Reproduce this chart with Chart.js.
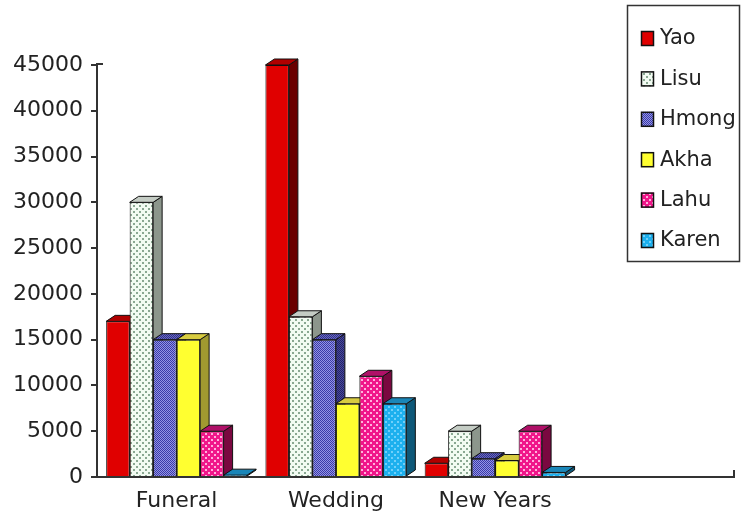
<!DOCTYPE html>
<html>
<head>
<meta charset="utf-8">
<script src="https://cdn.jsdelivr.net/npm/chart.js@4"></script>
<style>
    html, body { margin: 0; padding: 0; background: #fff; }
    #myChart { display: block; }
</style>
</head>
<body>
<canvas id="myChart" width="745" height="512"></canvas>
<script>
const categories = ['Funeral', 'Wedding', 'New Years', '']
const groups = ['Yao', 'Lisu', 'Hmong', 'Akha', 'Lahu', 'Karen']
const yao = [17000, 45000, 1500, null]
const lisu = [30000, 17500, 5000, null]
const hmong = [15000, 15000, 2000, null]
const akha = [15000, 8000, 1800, null]
const lahu = [5000, 11000, 5000, null]
const karen = [200, 8000, 500, null]
const yTicks = [0, 5000, 10000, 15000, 20000, 25000, 30000, 35000, 40000, 45000]

const FONT = 'DejaVu Sans'
const DX = 9, DY = 6

// small pattern tiles for the front faces
const makePattern = (size, bg, fg, draw) => {
    const c = document.createElement('canvas')
    c.width = size
    c.height = size
    const g = c.getContext('2d')
    g.fillStyle = bg
    g.fillRect(0, 0, size, size)
    g.fillStyle = fg
    draw(g)
    return document.getElementById('myChart').getContext('2d').createPattern(c, 'repeat')
}
const dots = (g) => { g.fillRect(1, 1, 2, 2); g.fillRect(4, 4, 2, 2) }
const checker = (g) => { g.fillRect(0, 0, 1, 1); g.fillRect(1, 1, 1, 1) }

const styles = [
    { front: '#e00000', top: '#b00000', side: '#6a0000' },
    { front: makePattern(6, '#f2fbf2', '#8aa892', dots), top: '#c4ccc4', side: '#8c968c' },
    { front: makePattern(2, '#9494e4', '#3a3aa8', checker), top: makePattern(2, '#6a6ac0', '#30308a', checker), side: makePattern(2, '#4a4a9a', '#22226a', checker) },
    { front: '#ffff30', top: '#d8cc40', side: '#a09a30' },
    { front: makePattern(6, '#f0168a', '#ffb0dc', dots), top: '#b01068', side: '#7a0840' },
    { front: makePattern(6, '#1cb0ee', '#70d0fa', dots), top: '#1a86b8', side: '#0e5878' }
]

const series = [yao, lisu, hmong, akha, lahu, karen]

// depth faces (top + right side) drawn before the fronts
const depthPlugin = {
    id: 'depth',
    beforeDatasetsDraw(chart) {
        const ctx = chart.ctx
        ctx.save()
        ctx.lineWidth = 1
        ctx.strokeStyle = '#111'
        chart.data.datasets.forEach((ds, i) => {
            chart.getDatasetMeta(i).data.forEach((bar, j) => {
                if (ds.data[j] == null) return
                const l = bar.x - bar.width / 2
                const r = bar.x + bar.width / 2
                const t = bar.y
                const b = bar.base
                ctx.fillStyle = styles[i].side
                ctx.beginPath()
                ctx.moveTo(r, t)
                ctx.lineTo(r + DX, t - DY)
                ctx.lineTo(r + DX, b - DY)
                ctx.lineTo(r, b)
                ctx.closePath()
                ctx.fill()
                ctx.stroke()
                ctx.fillStyle = styles[i].top
                ctx.beginPath()
                ctx.moveTo(l, t)
                ctx.lineTo(l + DX, t - DY)
                ctx.lineTo(r + DX, t - DY)
                ctx.lineTo(r, t)
                ctx.closePath()
                ctx.fill()
                ctx.stroke()
            })
        })
        ctx.restore()
    },
    afterDraw(chart) {
        const ctx = chart.ctx
        const a = chart.chartArea
        ctx.save()
        ctx.strokeStyle = '#333'
        ctx.lineWidth = 2
        ctx.beginPath()
        ctx.moveTo(a.left - 1, a.top - 1)
        ctx.lineTo(a.left + 6, a.top - 1)
        ctx.moveTo(a.right, a.bottom)
        ctx.lineTo(a.right, a.bottom - 7)
        ctx.stroke()

        // legend box
        ctx.fillStyle = '#fff'
        ctx.fillRect(627, 5, 113, 257)
        ctx.lineWidth = 1.5
        ctx.strokeRect(627.5, 5.5, 112, 256)
        ctx.font = '21px "' + FONT + '"'
        ctx.textBaseline = 'middle'
        groups.forEach((name, i) => {
            const cy = 38 + i * 40.4
            ctx.fillStyle = styles[i].front
            ctx.fillRect(641, cy - 7, 13, 15)
            ctx.strokeStyle = '#111'
            ctx.lineWidth = 1.5
            ctx.strokeRect(641.5, cy - 6.5, 12, 14)
            ctx.fillStyle = '#222'
            ctx.fillText(name, 660, cy + 1)
        })
        ctx.restore()
    }
}

const ctx = document.getElementById('myChart')
const myChart = new Chart(ctx, {
    type: 'bar',
    data: {
        labels: categories,
        datasets: series.map((data, i) => ({
            label: groups[i],
            data: data,
            backgroundColor: styles[i].front,
            borderColor: '#111',
            borderWidth: 1,
            borderSkipped: 'bottom'
        }))
    },
    options: {
        responsive: false,
        animation: false,
        devicePixelRatio: 1,
        layout: { padding: { top: 65, right: 11, left: 0, bottom: 0 } },
        datasets: {
            bar: { categoryPercentage: 0.885, barPercentage: 1 }
        },
        plugins: {
            legend: { display: false },
            tooltip: { enabled: false }
        },
        scales: {
            x: {
                grid: { display: false, drawTicks: false },
                border: { display: true, color: '#333', width: 2 },
                ticks: { color: '#222', font: { family: FONT, size: 22 }, padding: 11, maxRotation: 0 },
                afterFit: (scale) => { scale.height = 35 }
            },
            y: {
                min: 0,
                max: 45000,
                afterBuildTicks: (scale) => { scale.ticks = yTicks.map(v => ({ value: v })) },
                grid: { drawOnChartArea: false, drawTicks: true, tickLength: 6, color: '#333', lineWidth: 2 },
                border: { display: true, color: '#333', width: 2 },
                ticks: { color: '#222', font: { family: FONT, size: 22 }, padding: 8, callback: (v) => String(v) },
                afterFit: (scale) => { scale.width = 97 }
            }
        }
    },
    plugins: [depthPlugin]
})
</script>
</body>
</html>
